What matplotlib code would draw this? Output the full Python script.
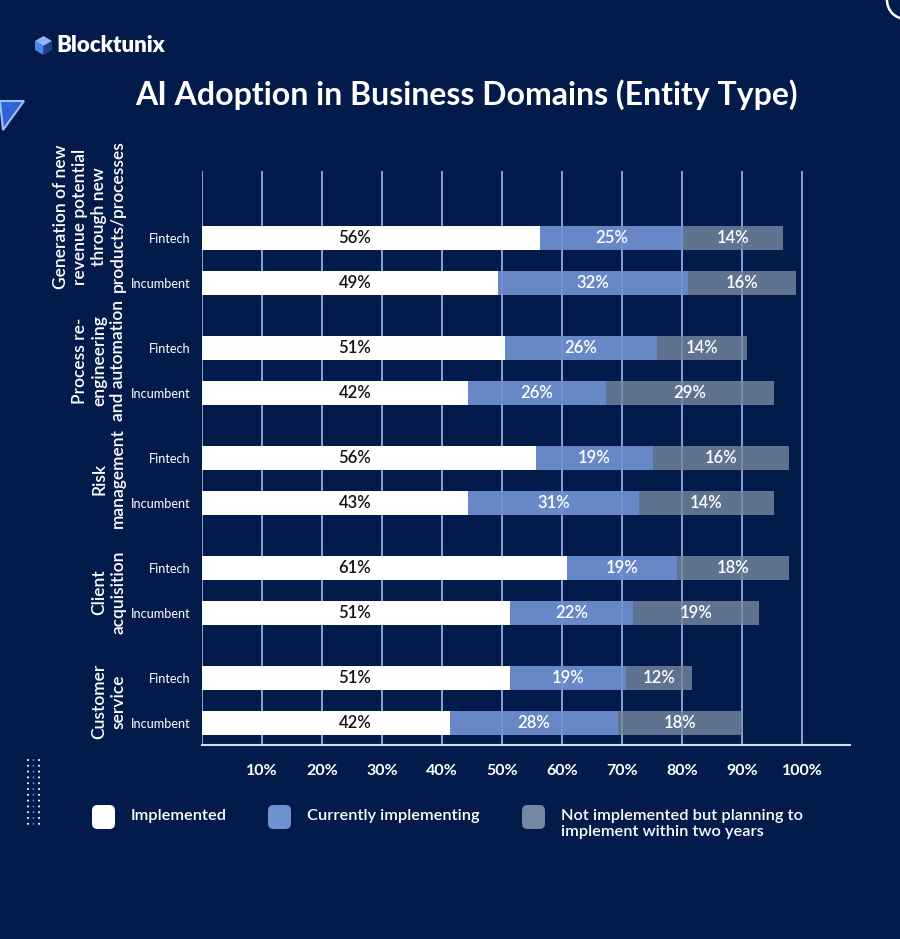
import matplotlib
matplotlib.use("Agg")
import matplotlib.pyplot as plt
from matplotlib.patches import FancyBboxPatch, Polygon, Circle
import matplotlib.transforms as mtransforms

plt.rcParams['font.family'] = ['Lato', 'DejaVu Sans']

# ---------------- data ----------------
domains = ["Generation of new\nrevenue potential\nthrough new\nproducts/processes",
           "Process re-\nengineering\nand automation",
           "Risk\nmanagement",
           "Client\nacquisition",
           "Customer\nservice"]
entities = ["Fintech", "Incumbent"]

# labelled values (%)
implemented_lbl = [56, 49, 51, 42, 56, 43, 61, 51, 51, 42]
implementing_lbl = [25, 32, 26, 26, 19, 31, 19, 22, 19, 28]
planning_lbl = [14, 16, 14, 29, 16, 14, 18, 19, 12, 18]

# drawn segment lengths (%)
implemented_len = [56.3, 49.3, 50.5, 44.3, 55.7, 44.3, 60.8, 51.3, 51.3, 41.3]
implementing_len = [23.8, 31.7, 25.3, 23.0, 19.4, 28.5, 18.4, 20.5, 19.4, 28.0]
planning_len = [16.8, 18.0, 15.0, 28.0, 22.7, 22.5, 18.6, 21.0, 10.9, 20.7]

xticks = [10, 20, 30, 40, 50, 60, 70, 80, 90, 100]
xticklabels = ["10%", "20%", "30%", "40%", "50%", "60%", "70%", "80%", "90%", "100%"]

legend_labels = ["Implemented", "Currently implementing",
                 "Not implemented but planning to\nimplement within two years"]

# ---------------- style ----------------
BG = "#021b4b"
WHITE = "#ffffff"
BLUE = "#7091d2"
GRAY = "#7587a1"
GRID = "#8a9fd3"
W, H = 900, 939
label_shift_px = [-44, -10, -2, 2, 1]   # vertical nudge of the group labels

fig = plt.figure(figsize=(W / 100, H / 100), dpi=100, facecolor=BG)

ax = fig.add_axes([202 / W, 1 - 745 / H, (850 - 202) / W, (745 - 171) / H])
ax.set_facecolor(BG)

n_groups = len(domains)
ys = []
for g in range(n_groups):
    for i in range(len(entities)):
        ys.append(g * 2.2 + i * 0.9)
ax.set_xlim(0, 108)
ax.set_ylim(9.7 + 0.44, -1.34)
unit_px = 50.0  # pixels per y unit

# grid
ax.vlines(xticks, -1.34, 10.14, color=GRID, lw=1.4, zorder=0)
ax.vlines([0], -1.34, 10.14, color=GRID, lw=1.4, zorder=0)

bh = 0.48
ax.barh(ys, implemented_len, height=bh, color=WHITE, zorder=2, linewidth=0)
ax.barh(ys, implementing_len, left=implemented_len, height=bh, color=BLUE,
        alpha=0.92, zorder=2, linewidth=0)
lefts3 = [a + b for a, b in zip(implemented_len, implementing_len)]
ax.barh(ys, planning_len, left=lefts3, height=bh, color=GRAY, alpha=0.82,
        zorder=2, linewidth=0)

lbl_kw = dict(ha="center", va="center", fontsize=12, fontweight="semibold", zorder=5)
for k, y in enumerate(ys):
    ax.text(25.5, y, f"{implemented_lbl[k]}%", color="#111111", **lbl_kw)
    ax.text(implemented_len[k] + implementing_len[k] / 2, y,
            f"{implementing_lbl[k]}%", color="white", **lbl_kw)
    ax.text(lefts3[k] + planning_len[k] / 2, y,
            f"{planning_lbl[k]}%", color="white", **lbl_kw)

for s in ["top", "right", "left"]:
    ax.spines[s].set_visible(False)
ax.spines["bottom"].set_color("#d6e0f5")
ax.spines["bottom"].set_linewidth(1.5)

ax.set_xticks(xticks)
ax.set_xticklabels(xticklabels, fontsize=11.5, fontweight="bold", color="white")
ax.set_yticks(ys)
ax.set_yticklabels(entities * n_groups, fontsize=9.2, color="white")
ax.tick_params(axis="x", length=0, pad=14)
ax.tick_params(axis="y", length=0, pad=8)

# group labels (one rotated text per line)
trans = mtransforms.blended_transform_factory(fig.transFigure, ax.transData)
pitch = 19.0
for g, name in enumerate(domains):
    yc = g * 2.2 + 0.45 + label_shift_px[g] / unit_px
    lines = name.split("\n")
    n = len(lines)
    for j, line in enumerate(lines):
        xc = 118 - (n - 1 - j) * pitch
        ax.text(xc / W, yc, line, transform=trans, rotation=90, ha="center",
                va="center", fontsize=12.5, fontweight="semibold", color="white",
                clip_on=False)

# title & logo
fig.text(466 / W, 1 - 95 / H, "AI Adoption in Business Domains (Entity Type)",
         ha="center", va="center", fontsize=23, fontweight="bold", color="white")
fig.text(56 / W, 1 - 46 / H, "Blocktunix", ha="left", va="center",
         fontsize=16, fontweight="heavy", color="white")
cube_top = Polygon([[35 / W, 1 - 41 / H], [43.5 / W, 1 - 36 / H], [52 / W, 1 - 41 / H],
                    [43.5 / W, 1 - 46 / H]], closed=True, transform=fig.transFigure,
                   facecolor="#8fb4f5", edgecolor="none")
cube_l = Polygon([[35 / W, 1 - 41 / H], [43.5 / W, 1 - 46 / H], [43.5 / W, 1 - 55 / H],
                  [35 / W, 1 - 50 / H]], closed=True, transform=fig.transFigure,
                 facecolor="#4f86e8", edgecolor="none")
cube_r = Polygon([[52 / W, 1 - 41 / H], [43.5 / W, 1 - 46 / H], [43.5 / W, 1 - 55 / H],
                  [52 / W, 1 - 50 / H]], closed=True, transform=fig.transFigure,
                 facecolor="#1c3f8f", edgecolor="none")
for p in (cube_top, cube_l, cube_r):
    fig.add_artist(p)

# decorative triangle left
tri = Polygon([[0, 1 - 101 / H], [24 / W, 1 - 101 / H], [3 / W, 1 - 130 / H]],
              closed=True, transform=fig.transFigure, facecolor="#2f63d6",
              edgecolor="#9fc0ff", lw=1.5)
fig.add_artist(tri)
# decorative circle top right
circ = Circle((905 / W, 1 - 0 / H), 18 / W, transform=fig.transFigure,
              facecolor="none", edgecolor="white", lw=1.8)
fig.add_artist(circ)

# dotted column bottom-left
for col, cx in enumerate([28, 33.5, 39]):
    for r in range(12):
        cy = 760 + r * 5.8
        fig.add_artist(Circle((cx / W, 1 - cy / H), 1.0 / W, transform=fig.transFigure,
                              facecolor="white" if col != 1 else "#4f79d8",
                              edgecolor="none"))

# legend
leg_colors = [WHITE, BLUE, GRAY]
leg_x = [92, 268, 522]
leg_tx = [131, 307, 561]
for c, x0, tx, lab in zip(leg_colors, leg_x, leg_tx, legend_labels):
    box = FancyBboxPatch((x0 / W, 1 - 829 / H), 23 / W, 24 / H,
                         boxstyle="round,pad=0,rounding_size=0.006",
                         transform=fig.transFigure, facecolor=c, edgecolor="none")
    fig.add_artist(box)
    fig.text(tx / W, 1 - 809 / H, lab, ha="left", va="top", fontsize=11.8,
             fontweight="semibold", color="white", linespacing=1.15)

fig.savefig("out.png", dpi=100, facecolor=BG)
